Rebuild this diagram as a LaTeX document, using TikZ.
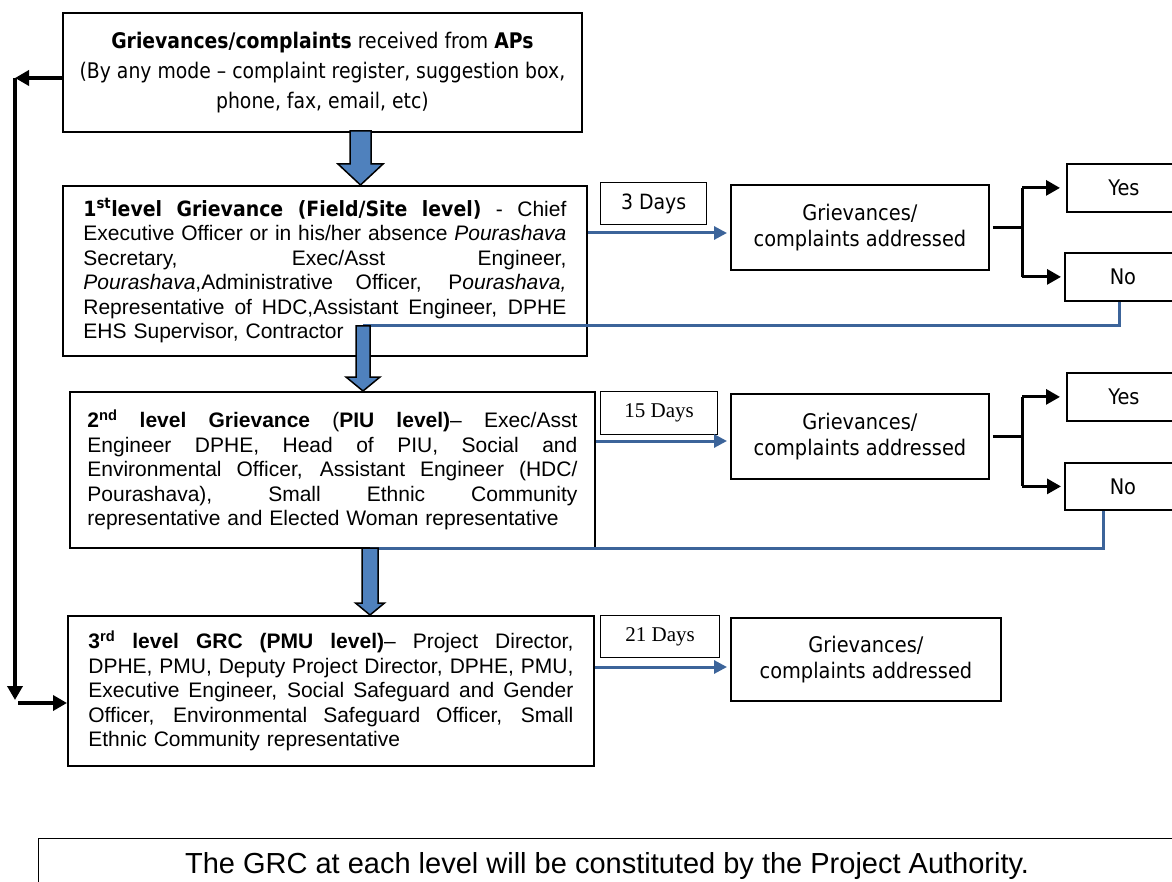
\documentclass[tikz,border=0pt]{standalone}
\usepackage{fontspec}
\setmainfont{Liberation Sans}
\newfontfamily\tahfont[FakeStretch=0.9]{DejaVu Sans}
\newfontfamily\tahnarrow[FakeStretch=0.875]{DejaVu Sans}
\newfontfamily\serfont{Liberation Serif}
\usetikzlibrary{arrows.meta,calc}
\definecolor{linkblue}{HTML}{3C649A}
\definecolor{arrowblue}{HTML}{4F81BD}
% one justified line of a level box: width, text
\newcommand\jline[2]{\leavevmode\hbox to #1{\spaceskip=.278em plus 1fil\relax #2}}
% broad outlined downward arrow: start, tip, shaft half width, head half width, head length
\newcommand\fatdown[5]{%
  \draw[fatarrow] ([xshift=-#3pt]#1) -- ([xshift=#3pt]#1)
    -- ([xshift=#3pt,yshift=#5pt]#2) -- ([xshift=#4pt,yshift=#5pt]#2)
    -- (#2) -- ([xshift=-#4pt,yshift=#5pt]#2)
    -- ([xshift=-#3pt,yshift=#5pt]#2) -- cycle;}
\begin{document}
\begin{tikzpicture}[x=1pt,y=-1pt,
  box/.style={draw=black, line width=1.8pt, rectangle, inner sep=0pt, anchor=north west},
  lvlbox/.style={box, align=left, font=\fontsize{21}{24.5}\selectfont},
  daybox/.style={box, line width=1.2pt},
  tahbox/.style={box, align=center, font=\tahfont\fontsize{21.5}{26}\selectfont},
  blu/.style={draw=linkblue, line width=3pt, -{Triangle[length=13pt,width=13pt]}, shorten >=3pt},
  blkline/.style={draw=black, line width=3pt},
  blk/.style={blkline, -{Triangle[length=14pt,width=15pt]}},
  thick arrow/.style={draw=black, line width=4pt, -{Triangle[length=14pt,width=15pt]}},
  fatarrow/.style={draw=black, line width=1.5pt, fill=arrowblue, line join=miter}]
\useasboundingbox (0,0) rectangle (1172,882);
\fill[white] (0,0) rectangle (1172,882);

% source of complaints
\node[box, minimum width=519pt, minimum height=119pt, align=center,
  font=\tahnarrow\fontsize{21.5}{30}\selectfont] (src) at (62,12)
  {\textbf{Grievances/complaints} received from \textbf{APs}\\
   (By any mode – complaint register, suggestion box,\\
   phone, fax, email, etc)};

% three grievance levels
\node[lvlbox, minimum width=524pt, minimum height=170pt, text width=483pt] (L1) at (62,185) {%
\jline{483pt}{{\tahfont\bfseries 1\textsuperscript{st}level Grievance (Field/Site level)} - Chief}\\
\jline{483pt}{Executive Officer or in his/her absence \textit{Pourashava}}\\
\jline{483pt}{Secretary, Exec/Asst Engineer,}\\
\jline{483pt}{\textit{Pourashava},Administrative Officer, P\textit{ourashava,}}\\
\jline{483pt}{Representative of HDC,Assistant Engineer, DPHE}\\
EHS Supervisor, Contractor};

\node[lvlbox, minimum width=525pt, minimum height=156pt, text width=490pt] (L2) at (69,391) {%
\jline{490pt}{\textbf{2\textsuperscript{nd} level Grievance} (\textbf{PIU level)}– Exec/Asst}\\
\jline{490pt}{Engineer DPHE, Head of PIU, Social and}\\
\jline{490pt}{Environmental Officer, Assistant Engineer (HDC/}\\
\jline{490pt}{Pourashava), Small Ethnic Community}\\
representative and Elected Woman representative};

\node[lvlbox, minimum width=526pt, minimum height=150pt, text width=485pt] (L3) at (67,615) {%
\jline{485pt}{\textbf{3\textsuperscript{rd} level GRC (PMU level)}– Project Director,}\\
\jline{485pt}{DPHE, PMU, Deputy Project Director, DPHE, PMU,}\\
\jline{485pt}{Executive Engineer, Social Safeguard and Gender}\\
\jline{485pt}{Officer, Environmental Safeguard Officer, Small}\\
Ethnic Community representative};

% time limits
\node[daybox, minimum width=106pt, minimum height=42pt, font=\tahfont\fontsize{21}{24}\selectfont] (D1) at (600,182) {3 Days};
\node[daybox, minimum width=117pt, minimum height=43pt, font=\serfont\fontsize{21}{24}\selectfont] (D2) at (600,391) {15 Days};
\node[daybox, minimum width=119pt, minimum height=42pt, font=\serfont\fontsize{21}{24}\selectfont] (D3) at (600,615) {21 Days};

% outcomes
\node[tahbox, minimum width=258pt, minimum height=85pt] (G1) at (730,184) {Grievances/\\complaints addressed};
\node[tahbox, minimum width=258pt, minimum height=85pt] (G2) at (730,393) {Grievances/\\complaints addressed};
\node[tahbox, minimum width=270pt, minimum height=83pt] (G3) at (730,617) {Grievances/\\complaints addressed};

\node[tahbox, minimum width=114pt, minimum height=48pt] (Y1) at (1066,163) {Yes};
\node[tahbox, minimum width=116pt, minimum height=48pt] (N1) at (1064,252) {No};
\node[tahbox, minimum width=114pt, minimum height=48pt] (Y2) at (1066,372) {Yes};
\node[tahbox, minimum width=116pt, minimum height=47pt] (N2) at (1064,462) {No};

% note
\node[box, line width=1.2pt, minimum width=1137pt, minimum height=54pt,
  font=\fontsize{29}{32}\selectfont] (note) at (38,838)
  {The GRC at each level will be constituted by the Project Authority.};

% direct referral to the third level
\coordinate (lt) at (15,78);
\coordinate (lb) at (15,700);
\coordinate (lr) at (18,703);
\draw[thick arrow] (src.west |- lt) -- (lt);
\draw[thick arrow] (lt) -- (lb);
\draw[thick arrow] (lr) -- (L3.west |- lr);

% level to outcome within the time limit
\coordinate (r1) at (0,233);
\coordinate (r2) at (0,441);
\coordinate (r3) at (0,667);
\draw[blu] (L1.east |- r1) -- (G1.west |- r1);
\draw[blu] (L2.east |- r2) -- (G2.west |- r2);
\draw[blu] (L3.east |- r3) -- (G3.west |- r3);

% yes / no branches
\coordinate (bx) at (1022,0);
\draw[blkline, shorten <=3pt] (G1.east) -- (G1.east -| bx);
\draw[blkline] (bx |- Y1.west) -- (bx |- N1.west);
\draw[blk, shorten >=6pt] (bx |- Y1.west) -- (Y1.west);
\draw[blk, shorten >=3pt] (bx |- N1.west) -- (N1.west);
\draw[blkline, shorten <=3pt] (G2.east) -- (G2.east -| bx);
\draw[blkline] (bx |- Y2.west) -- (bx |- N2.west);
\draw[blk, shorten >=6pt] (bx |- Y2.west) -- (Y2.west);
\draw[blk, shorten >=3pt] (bx |- N2.west) -- (N2.west);

% unresolved grievances go up one level
\coordinate (j1) at (363,326);
\coordinate (j2) at (370,548);
\draw[draw=linkblue, line width=3pt] ([xshift=-3pt]N1.south) |- (j1);
\draw[draw=linkblue, line width=3pt] ([xshift=-19pt]N2.south) |- (j2);

% broad arrows between levels
\coordinate (a1) at (360.5,131);
\coordinate (a1e) at (a1 |- L1.north);
\coordinate (j1e) at (j1 |- L2.north);
\coordinate (j2e) at (j2 |- L3.north);
\fatdown{a1}{a1e}{10.5}{22.5}{21}
\fatdown{j1}{j1e}{7}{17}{14}
\fatdown{j2}{j2e}{8}{14.5}{12}
\end{tikzpicture}
\end{document}
